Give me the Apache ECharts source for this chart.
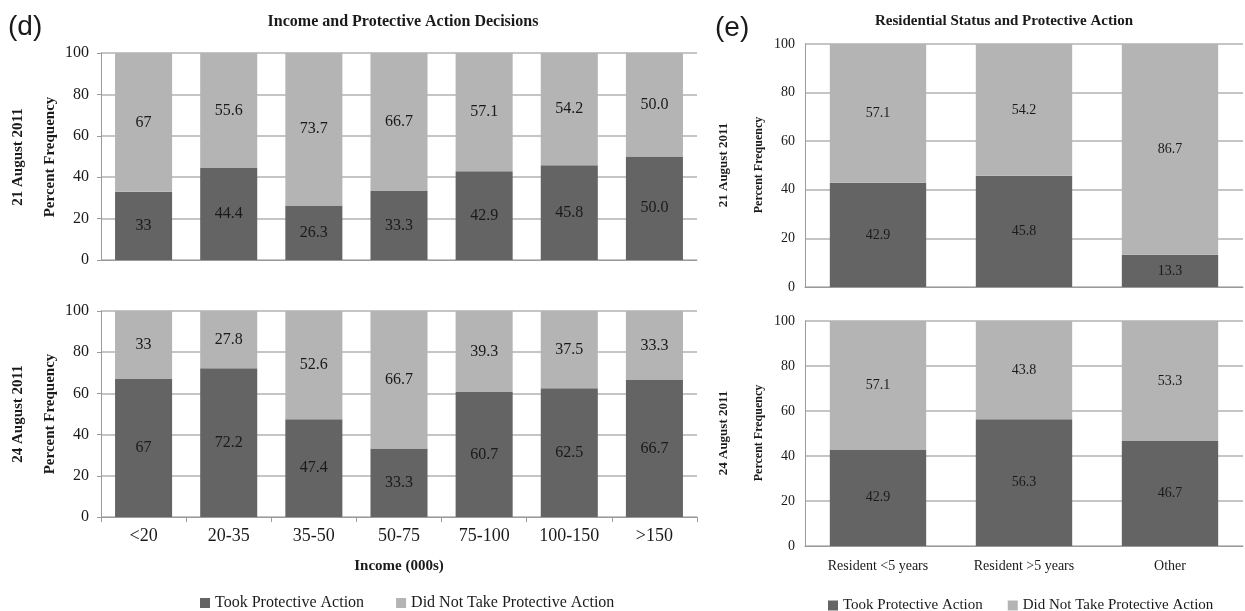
<!DOCTYPE html>
<html>
<head>
<meta charset="utf-8">
<script src="https://cdn.jsdelivr.net/npm/echarts@6/dist/echarts.min.js"></script>
<style>
html,body{margin:0;padding:0;background:#fff;}
#chart{width:1245px;height:611px;}
</style>
</head>
<body>
<div id="chart"></div>
<script>
// ---- Data ----
const incomeCats = ['<20', '20-35', '35-50', '50-75', '75-100', '100-150', '>150'];
const incTook21 = ['33', '44.4', '26.3', '33.3', '42.9', '45.8', '50.0'];
const incNot21  = ['67', '55.6', '73.7', '66.7', '57.1', '54.2', '50.0'];
const incTook24 = ['67', '72.2', '47.4', '33.3', '60.7', '62.5', '66.7'];
const incNot24  = ['33', '27.8', '52.6', '66.7', '39.3', '37.5', '33.3'];

const resCats = ['Resident <5 years', 'Resident >5 years', 'Other'];
const resTook21 = ['42.9', '45.8', '13.3'];
const resNot21  = ['57.1', '54.2', '86.7'];
const resTook24 = ['42.9', '56.3', '46.7'];
const resNot24  = ['57.1', '43.8', '53.3'];

const yMin = 0, yMax = 100, yStep = 20;
const seriesNames = ['Took Protective Action', 'Did Not Take Protective Action'];

// ---- Styles ----
const SERIF = 'Liberation Serif';
const DARK = '#646464';
const LIGHT = '#b4b4b4';
const GRID_LINE = '#b2b2b2';
const TXT = '#1a1a1a';

const chart = echarts.init(document.getElementById('chart'), null, {renderer: 'canvas'});

const grids = [
  {left: 101, top: 53, width: 596, height: 207},
  {left: 101, top: 311, width: 596, height: 206},
  {left: 805, top: 44, width: 438, height: 243},
  {left: 805, top: 321, width: 438, height: 225}
];

function xAxisFor(gi, cats, showLabels, fontSize, showTicks, margin, name) {
  return {
    type: 'category', gridIndex: gi, data: cats,
    axisLine: {show: true, lineStyle: {color: '#9a9a9a', width: 1}},
    axisTick: {show: showTicks, length: 5, lineStyle: {color: '#9a9a9a'}},
    axisLabel: {show: showLabels, color: TXT, fontFamily: SERIF, fontSize: fontSize, margin: margin},
    name: name || '', nameLocation: 'middle', nameGap: 42,
    nameTextStyle: {color: TXT, fontFamily: SERIF, fontSize: 15, fontWeight: 'bold'}
  };
}
function yAxisFor(gi, fontSize, tickLen) {
  return {
    type: 'value', gridIndex: gi, min: yMin, max: yMax, interval: yStep,
    axisLine: {show: true, lineStyle: {color: '#9a9a9a', width: 1}},
    axisTick: {show: tickLen > 0, length: tickLen, lineStyle: {color: '#9a9a9a'}},
    axisLabel: {color: TXT, fontFamily: SERIF, fontSize: fontSize, margin: tickLen > 0 ? 12 : 10},
    splitLine: {show: true, lineStyle: {color: GRID_LINE, width: 1.5}}
  };
}

function barSeries(gi, name, arr, color, stack, fontSize, barW) {
  return {
    type: 'bar', name: name, xAxisIndex: gi, yAxisIndex: gi, stack: stack,
    data: arr.map(Number), barWidth: barW,
    itemStyle: {color: color},
    label: {
      show: true, position: 'inside', color: TXT, fontFamily: SERIF, fontSize: fontSize,
      formatter: p => arr[p.dataIndex]
    },
    emphasis: {disabled: true}
  };
}

function rotText(x, y, text, size, weight) {
  return {
    type: 'text', x: x, y: y, rotation: Math.PI / 2,
    style: {text: text, fill: TXT, font: (weight || 'bold') + ' ' + size + 'px "' + SERIF + '"',
            textAlign: 'center', textVerticalAlign: 'middle'}
  };
}

const option = {
  backgroundColor: '#fff',
  animation: false,
  title: [
    {text: 'Income and Protective Action Decisions', left: 398, top: 9, textAlign: 'center',
     textStyle: {fontFamily: SERIF, fontSize: 16, fontWeight: 'bold', color: TXT}},
    {text: 'Residential Status and Protective Action', left: 999, top: 9, textAlign: 'center',
     textStyle: {fontFamily: SERIF, fontSize: 15, fontWeight: 'bold', color: TXT}}
  ],
  grid: grids,
  xAxis: [
    xAxisFor(0, incomeCats, false, 18, false, 10),
    xAxisFor(1, incomeCats, true, 18, true, 10, 'Income (000s)'),
    xAxisFor(2, resCats, false, 14, false, 12),
    xAxisFor(3, resCats, true, 14, false, 13)
  ],
  yAxis: [
    yAxisFor(0, 16, 4),
    yAxisFor(1, 16, 4),
    yAxisFor(2, 14, 0),
    yAxisFor(3, 14, 0)
  ],
  legend: [
    {data: seriesNames, left: 200, top: 595, padding: 0, itemWidth: 10, itemHeight: 10, itemGap: 32, icon: 'rect',
     textStyle: {fontFamily: SERIF, fontSize: 16, color: TXT}, selectedMode: false},
    {data: seriesNames, left: 828, top: 598, padding: 0, itemWidth: 10, itemHeight: 10, itemGap: 25, icon: 'rect',
     textStyle: {fontFamily: SERIF, fontSize: 15, color: TXT}, selectedMode: false}
  ],
  series: [
    barSeries(0, seriesNames[0], incTook21, DARK, 'a', 16, '67%'),
    barSeries(0, seriesNames[1], incNot21, LIGHT, 'a', 16, '67%'),
    barSeries(1, seriesNames[0], incTook24, DARK, 'b', 16, '67%'),
    barSeries(1, seriesNames[1], incNot24, LIGHT, 'b', 16, '67%'),
    barSeries(2, seriesNames[0], resTook21, DARK, 'c', 14, '66%'),
    barSeries(2, seriesNames[1], resNot21, LIGHT, 'c', 14, '66%'),
    barSeries(3, seriesNames[0], resTook24, DARK, 'd', 14, '66%'),
    barSeries(3, seriesNames[1], resNot24, LIGHT, 'd', 14, '66%')
  ],
  graphic: [
    {type: 'text', x: 8, y: 27, style: {text: '(d)', fill: TXT, font: '28px "Liberation Sans"', textVerticalAlign: 'middle'}},
    {type: 'text', x: 715, y: 28, style: {text: '(e)', fill: TXT, font: '28px "Liberation Sans"', textVerticalAlign: 'middle'}},
    rotText(18, 157, '21 August 2011', 15),
    rotText(50, 157, 'Percent Frequency', 15),
    rotText(18, 414, '24 August 2011', 15),
    rotText(50, 414, 'Percent Frequency', 15),
    rotText(724, 165, '21 August 2011', 13),
    rotText(759, 165, 'Percent Frequency', 12),
    rotText(724, 433, '24 August 2011', 13),
    rotText(759, 433, 'Percent Frequency', 12)
  ]
};

chart.setOption(option);
</script>
</body>
</html>
